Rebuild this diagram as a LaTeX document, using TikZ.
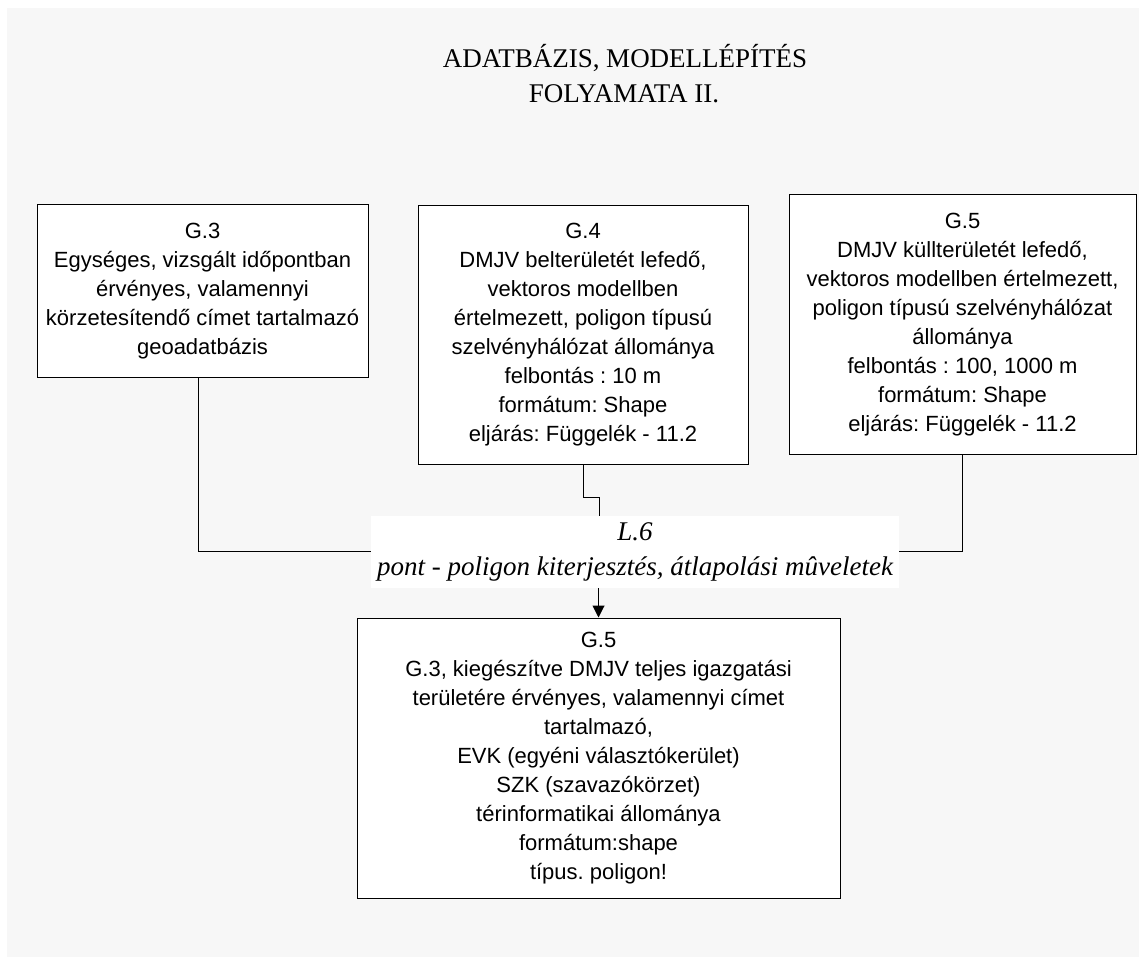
\documentclass[tikz,border=0pt]{standalone}
\usepackage{fontspec}
\setmainfont{Liberation Serif}
\newfontfamily\arialf{Liberation Sans}
\usetikzlibrary{arrows.meta}
\definecolor{bggray}{HTML}{F7F7F7}
\frenchspacing
\begin{document}
\frenchspacing
\begin{tikzpicture}[x=1pt,y=-1pt,
  box/.style={draw=black, line width=1pt, fill=white, align=center, inner sep=0pt,
    font=\arialf\fontsize{22}{29}\selectfont\frenchspacing},
  conn/.style={draw=black, line width=1pt},
  titletext/.style={anchor=base, inner sep=0pt, font=\fontsize{27}{35}\selectfont\frenchspacing},
  labelbox/.style={fill=white, align=center, inner sep=0pt,
    font=\itshape\fontsize{27}{35}\selectfont\frenchspacing}
]
\useasboundingbox (0,0) rectangle (1139,957);
\fill[bggray] (7,8) rectangle (1139,957);

\node[titletext] (t1) at (625,68) {ADATBÁZIS, MODELLÉPÍTÉS};
\node[titletext] (t2) at (624,103) {FOLYAMATA II.};

\node[box, minimum width=331pt, minimum height=172pt] (g3) at (202.5,291)
  {G.3\\Egységes, vizsgált időpontban\\érvényes, valamennyi\\körzetesítendő címet tartalmazó\\geoadatbázis};
\node[box, minimum width=330pt, minimum height=258pt] (g4) at (583,335)
  {G.4\\DMJV belterületét lefedő,\\vektoros modellben\\értelmezett, poligon típusú\\szelvényhálózat állománya\\felbontás : 10 m\\formátum: Shape\\eljárás: Függelék - 11.2};
\node[box, minimum width=347pt, minimum height=259pt] (g5a) at (962.5,324.5)
  {G.5\\DMJV küllterületét lefedő,\\vektoros modellben értelmezett,\\poligon típusú szelvényhálózat\\állománya\\felbontás : 100, 1000 m\\formátum: Shape\\eljárás: Függelék - 11.2};
\node[box, minimum width=483pt, minimum height=280pt] (g5b) at (598.5,758)
  {G.5\\G.3, kiegészítve DMJV teljes igazgatási\\területére érvényes, valamennyi címet\\tartalmazó,\\EVK (egyéni választókerület)\\SZK (szavazókörzet)\\térinformatikai állománya\\formátum:shape\\típus. poligon!};

\node[labelbox, minimum width=528pt, minimum height=72pt] (l6) at (635,552)
  {L.6\\pont - poligon kiterjesztés, átlapolási mûveletek};

\draw[conn] ([xshift=-4.5pt]g3.south) |- ([yshift=1pt]l6.west);
\draw[conn] (g4.south) -- ++(0,33) -| ([xshift=-36pt]l6.north);
\draw[conn] (g5a.south) |- ([yshift=1pt]l6.east);
\draw[conn, -{Triangle[length=12pt,width=12pt]}] (l6.south -| g5b.north) -- (g5b.north);
\end{tikzpicture}
\end{document}
